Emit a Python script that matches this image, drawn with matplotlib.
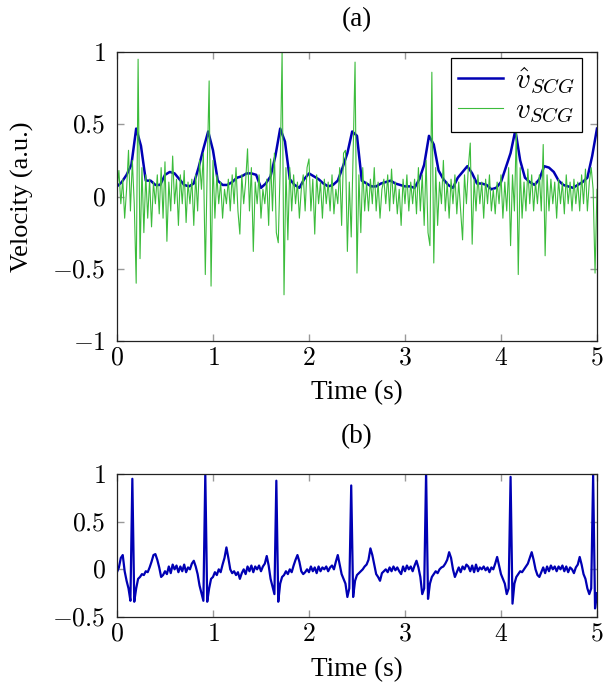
import numpy as np
import matplotlib
matplotlib.use("Agg")
import matplotlib.pyplot as plt

plt.rcParams['font.family'] = ['Liberation Serif', 'DejaVu Serif']
plt.rcParams['mathtext.fontset'] = 'cm'

# sampling step of the traces (s)
dt = 0.02

# raw SCG velocity (green), one value every 0.02 s from 0 to 5 s
v_scg = [
    0.05, 0.18, -0.05, 0.12, -0.15, 0.05, 0.32, -0.10, 0.25, -0.05,
    -0.60, 0.95, -0.43, 0.20, -0.25, 0.15, -0.15, 0.12, -0.21, 0.10,
    -0.05, 0.15, -0.12, 0.20, -0.15, 0.24, -0.31, 0.10, -0.10, 0.28,
    -0.05, 0.12, -0.20, 0.15, -0.05, 0.18, -0.18, 0.10, -0.05, 0.12,
    -0.20, 0.15, -0.10, 0.25, 0.05, 0.30, -0.54, 0.20, 0.80, -0.62,
    0.25, -0.15, 0.15, -0.05, 0.10, -0.15, 0.05, -0.05, 0.12, -0.10,
    0.15, -0.05, 0.20, -0.10, -0.26, 0.15, -0.05, 0.10, 0.33, -0.10,
    0.20, -0.38, 0.10, -0.05, 0.15, -0.15, 0.05, -0.05, 0.12, -0.20,
    0.26, -0.10, 0.30, -0.25, -0.32, 0.20, 1.00, -0.68, 0.20, -0.30,
    0.20, -0.10, 0.15, -0.05, 0.10, -0.15, 0.05, 0.15, -0.10, 0.20,
    0.26, -0.10, 0.12, -0.26, 0.15, -0.05, 0.10, -0.15, 0.12, -0.05,
    0.10, -0.10, 0.15, -0.12, 0.05, -0.05, 0.20, -0.20, 0.30, 0.32,
    -0.38, 0.10, -0.28, 0.30, 0.93, -0.53, 0.15, -0.25, 0.20, -0.10,
    0.10, -0.10, 0.12, -0.05, 0.20, -0.10, 0.10, -0.15, 0.05, 0.12,
    -0.05, 0.15, -0.10, 0.19, -0.05, 0.10, -0.12, 0.05, -0.20, 0.12,
    -0.05, 0.15, -0.10, 0.10, -0.05, 0.12, -0.12, 0.20, -0.10, 0.15,
    -0.20, 0.25, -0.25, -0.34, 0.86, -0.46, 0.20, -0.20, 0.10, -0.05,
    0.25, -0.10, 0.10, -0.15, 0.12, -0.05, 0.15, -0.12, 0.10, -0.10,
    -0.30, 0.15, -0.05, 0.20, 0.37, -0.33, 0.12, -0.10, 0.15, -0.05,
    0.10, -0.15, 0.12, -0.05, 0.15, -0.10, 0.05, -0.12, 0.10, -0.05,
    0.15, -0.15, 0.10, -0.10, 0.20, -0.34, 0.15, -0.10, 0.47, -0.54,
    0.20, -0.15, 0.10, -0.10, 0.19, -0.05, 0.15, -0.10, 0.10, -0.05,
    0.15, -0.10, 0.36, -0.41, 0.15, -0.10, 0.12, -0.05, 0.10, -0.15,
    0.12, -0.05, 0.10, -0.12, 0.15, -0.05, 0.10, -0.10, 0.12, -0.05,
    0.10, -0.10, 0.15, -0.05, 0.19, -0.10, 0.10, 0.20, 0.05, -0.53,
    0.05,
]

# estimated SCG velocity (blue), one value every 0.05 s
dt_hat = 0.05
v_hat = [
    0.07, 0.10, 0.15, 0.22, 0.47, 0.35, 0.11, 0.11, 0.08, 0.08,
    0.15, 0.17, 0.16, 0.12, 0.08, 0.07, 0.09, 0.20, 0.33, 0.45,
    0.32, 0.11, 0.08, 0.08, 0.10, 0.13, 0.14, 0.16, 0.16, 0.15,
    0.06, 0.09, 0.14, 0.28, 0.47, 0.38, 0.12, 0.08, 0.06, 0.12,
    0.16, 0.14, 0.12, 0.09, 0.07, 0.08, 0.11, 0.20, 0.30, 0.45,
    0.42, 0.11, 0.09, 0.07, 0.07, 0.09, 0.10, 0.11, 0.09, 0.08,
    0.07, 0.07, 0.06, 0.12, 0.22, 0.42, 0.36, 0.18, 0.12, 0.08,
    0.06, 0.13, 0.17, 0.21, 0.16, 0.09, 0.09, 0.08, 0.05, 0.06,
    0.10, 0.20, 0.30, 0.46, 0.25, 0.13, 0.10, 0.08, 0.12, 0.21,
    0.20, 0.17, 0.11, 0.08, 0.07, 0.06, 0.08, 0.10, 0.13, 0.28,
    0.47,
]

# ECG trace for panel (b), one value every 0.02 s
ecg = [
    -0.03, 0.02, 0.12, 0.15, -0.02, -0.12, -0.20, -0.33, 0.95, -0.34,
    -0.20, -0.10, -0.08, -0.05, -0.06, -0.02, -0.03, 0.02, 0.08, 0.15,
    0.16, 0.10, 0.02, -0.08, -0.06, -0.02, -0.05, 0.03, -0.04, 0.05,
    0.00, 0.04, -0.03, 0.03, -0.02, 0.05, -0.03, 0.02, 0.00, 0.06,
    0.09, 0.03, -0.05, -0.17, -0.25, -0.33, 1.00, -0.34, -0.20, -0.10,
    -0.08, -0.03, -0.06, 0.00, -0.03, 0.05, 0.12, 0.23, 0.12, 0.00,
    -0.04, -0.02, -0.06, -0.03, -0.10, -0.04, 0.00, -0.05, 0.03, -0.02,
    0.04, -0.03, 0.03, 0.00, 0.04, -0.02, 0.03, 0.06, 0.14, 0.04,
    -0.10, -0.18, -0.26, 0.93, -0.34, -0.15, -0.08, -0.06, -0.02, -0.05,
    0.00, -0.03, 0.04, 0.10, 0.15, 0.08, -0.02, -0.05, -0.03, 0.00,
    -0.03, 0.03, -0.02, 0.02, -0.04, 0.03, -0.02, 0.02, 0.00, 0.03,
    -0.02, 0.02, 0.04, 0.00, 0.08, 0.15, 0.05, -0.05, -0.10, -0.15,
    -0.29, -0.20, 0.88, -0.29, -0.12, -0.06, -0.04, -0.02, 0.00, 0.03,
    0.05, 0.10, 0.22, 0.15, 0.05, -0.05, -0.08, -0.12, -0.04, -0.02,
    0.00, -0.03, 0.02, -0.02, 0.03, -0.01, 0.02, -0.02, -0.05, 0.03,
    -0.02, 0.04, 0.00, 0.03, -0.02, 0.04, 0.09, 0.02, -0.08, -0.26,
    -0.20, 1.02, -0.31, -0.15, -0.08, -0.05, -0.02, -0.04, 0.00, 0.02,
    0.03, 0.06, 0.10, 0.18, 0.12, 0.00, -0.08, -0.03, 0.02, -0.03,
    0.03, 0.00, 0.05, 0.03, -0.02, 0.04, -0.03, 0.05, -0.02, 0.02,
    0.00, 0.03, -0.01, 0.02, -0.03, 0.02, 0.00, 0.06, 0.13, 0.04,
    -0.05, -0.10, -0.15, -0.26, -0.20, 0.97, -0.36, -0.15, -0.08, -0.05,
    -0.02, -0.03, 0.00, 0.03, 0.06, 0.12, 0.18, 0.10, 0.00, -0.06,
    -0.08, -0.03, 0.02, -0.04, 0.03, -0.02, 0.04, 0.00, 0.03, -0.02,
    0.03, 0.00, 0.04, -0.02, 0.03, -0.03, 0.02, 0.00, -0.04, 0.02,
    0.05, 0.13, 0.05, -0.05, -0.10, -0.20, -0.26, -0.20, 0.99, -0.41,
    -0.25,
]

t = np.arange(len(v_scg)) * dt
t_hat = np.arange(len(v_hat)) * dt_hat
t_ecg = np.arange(len(ecg)) * dt

blue = '#0000b4'
green = '#3cbc3c'
fs_tick = 18.5
fs_lab = 19.5


def style(ax):
    ax.tick_params(direction='in', which='both', top=True, right=True,
                   length=5, width=1, color='#999999', labelsize=fs_tick)
    ax.tick_params(axis='x', pad=5)
    ax.tick_params(axis='y', pad=8)
    for s in ax.spines.values():
        s.set_linewidth(0.9)
        s.set_color('#222222')
    ax.set_xlim(0, 5)
    ax.set_xticks([0, 1, 2, 3, 4, 5])
    ax.set_xticklabels(['$%d$' % v for v in range(6)])
    ax.set_xlabel('Time (s)', fontsize=fs_lab)


fig = plt.figure(figsize=(6.03, 6.87), dpi=100)

# (a)
ax = fig.add_axes([0.194, 0.5036, 0.796, 0.4207])
ax.plot(t_hat, v_hat, color=blue, lw=1.8, label=r'$\hat{v}_{SCG}$')
ax.plot(t, v_scg, color=green, lw=0.8, label=r'$v_{SCG}$')
style(ax)
ax.set_ylim(-1, 1)
ax.set_yticks([-1, -0.5, 0, 0.5, 1])
ax.set_yticklabels(['$-1$', '$-0.5$', '$0$', '$0.5$', '$1$'])
ax.set_ylabel('Velocity (a.u.)', fontsize=fs_lab - 0.5)
ax.yaxis.set_label_coords(-0.172, 0.5)
ax.xaxis.set_label_coords(0.5, -0.135)
leg = ax.legend(loc='upper right', bbox_to_anchor=(0.969, 0.979),
                fontsize=21, fancybox=False, framealpha=1,
                edgecolor='black', borderpad=0.25, borderaxespad=0,
                handlelength=1.55, handletextpad=0.4, labelspacing=0.1)
leg.get_frame().set_linewidth(0.9)

# (b)
ax2 = fig.add_axes([0.194, 0.1019, 0.796, 0.2081])
ax2.plot(t_ecg, ecg, color=blue, lw=1.6)
style(ax2)
ax2.set_ylim(-0.5, 1)
ax2.set_yticks([-0.5, 0, 0.5, 1])
ax2.set_yticklabels(['$-0.5$', '$0$', '$0.5$', '$1$'])
ax2.xaxis.set_label_coords(0.5, -0.28)

fig.text(0.592, 0.971, '(a)', fontsize=fs_lab, ha='center', va='center')
fig.text(0.592, 0.364, '(b)', fontsize=fs_lab, ha='center', va='center')

fig.savefig('out.png', dpi=100)
